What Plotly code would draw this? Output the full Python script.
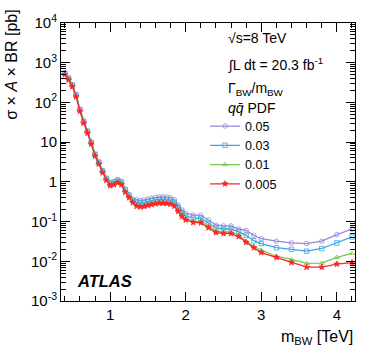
import plotly.graph_objects as go

# resonance mass points [TeV]
mass = [0.40, 0.45, 0.50, 0.55, 0.60, 0.65, 0.70, 0.75, 0.80, 0.85,
        0.90, 0.95, 1.00, 1.05, 1.10, 1.15, 1.20, 1.25, 1.30, 1.35,
        1.40, 1.45, 1.50, 1.55, 1.60, 1.65, 1.70, 1.75, 1.80, 1.85,
        1.90, 1.95, 2.00,
        2.1, 2.2, 2.3, 2.4, 2.5, 2.6, 2.7, 2.8, 2.9, 3.0,
        3.2, 3.4, 3.6, 3.8, 4.0, 4.2]

# sigma x A x BR [pb] for each width/mass ratio
w005 = [560, 415, 280, 157, 67, 34, 19, 10.1, 5.0, 3.15,
        1.9, 1.23, 0.96, 1.02, 1.14, 1.02, 0.66, 0.48, 0.36, 0.355,
        0.34, 0.35, 0.37, 0.39, 0.405, 0.42, 0.42, 0.413, 0.40, 0.355,
        0.26, 0.196, 0.16,
        0.147, 0.144, 0.109, 0.082, 0.078, 0.078, 0.065, 0.06, 0.045, 0.037,
        0.032, 0.029, 0.028, 0.032, 0.047, 0.065]
w003 = [550, 405, 275, 154, 66, 33, 18.7, 9.9, 4.95, 3.1,
        1.87, 1.21, 0.92, 0.98, 1.09, 0.98, 0.63, 0.46, 0.345, 0.306,
        0.294, 0.30, 0.32, 0.34, 0.35, 0.36, 0.36, 0.356, 0.344, 0.306,
        0.225, 0.17, 0.138,
        0.124, 0.121, 0.091, 0.069, 0.065, 0.065, 0.055, 0.045, 0.033, 0.028,
        0.022, 0.020, 0.018, 0.021, 0.029, 0.041]
w001 = [525, 390, 262, 147, 63, 31.5, 17.8, 9.5, 4.7, 2.95,
        1.78, 1.16, 0.84, 0.91, 1.02, 0.91, 0.59, 0.43, 0.32, 0.262,
        0.252, 0.257, 0.273, 0.289, 0.30, 0.31, 0.31, 0.305, 0.294, 0.262,
        0.193, 0.145, 0.118,
        0.104, 0.102, 0.077, 0.058, 0.055, 0.055, 0.046, 0.032, 0.024, 0.019,
        0.0134, 0.0112, 0.0089, 0.009, 0.0126, 0.0158]
w0005 = [500, 370, 250, 140, 60, 30, 17, 9, 4.5, 2.8,
         1.7, 1.1, 0.8, 0.85, 0.95, 0.85, 0.55, 0.4, 0.3, 0.245,
         0.235, 0.24, 0.255, 0.27, 0.28, 0.29, 0.29, 0.285, 0.275, 0.245,
         0.18, 0.135, 0.11,
         0.095, 0.093, 0.07, 0.053, 0.05, 0.05, 0.042, 0.03, 0.022, 0.0166,
         0.0126, 0.0093, 0.0071, 0.0071, 0.0085, 0.0093]

names = ["0.05", "0.03", "0.01", "0.005"]
colors = ["#9b86d9", "#3aa6de", "#7cc64f", "#f8262a"]
symbols = ["circle-open", "square-open", "triangle-up-open", "star"]
series = [w005, w003, w001, w0005]

ytick_vals = [1e-3, 1e-2, 1e-1, 1, 10, 1e2, 1e3, 1e4]
ytick_text = ["10<sup>-3</sup>", "10<sup>-2</sup>", "10<sup>-1</sup>", "1", "10",
              "10<sup>2</sup>", "10<sup>3</sup>", "10<sup>4</sup>"]

FONT = "Liberation Sans, Arial, Helvetica, sans-serif"

fig = go.Figure()
for nm, col, sym, ys in zip(names, colors, symbols, series):
    fig.add_trace(go.Scatter(
        x=mass, y=ys, name=nm, mode="lines+markers",
        line=dict(color=col, width=1.3),
        marker=dict(symbol=sym, size=4.5, color=col, line=dict(color=col, width=0.8)),
    ))

fig.update_layout(
    width=374, height=359,
    margin=dict(l=61, r=19, t=18, b=58),
    paper_bgcolor="white", plot_bgcolor="white",
    font=dict(family=FONT, size=15, color="black"),
    showlegend=True,
    legend=dict(x=0.49, y=0.682, xanchor="left", yanchor="top",
                bgcolor="rgba(0,0,0,0)", font=dict(size=12.5),
                itemwidth=30, tracegroupgap=0),
    xaxis=dict(range=[0.35, 4.24], tickvals=[1, 2, 3, 4],
               ticks="inside", ticklen=9, tickwidth=1, tickcolor="black",
               showline=True, linecolor="black", linewidth=1, mirror="allticks",
               showgrid=False, zeroline=False,
               minor=dict(dtick=0.2, tick0=0, ticks="inside", ticklen=5,
                          tickcolor="black", showgrid=False)),
    yaxis=dict(type="log", range=[-3, 4], tickmode="array",
               tickvals=ytick_vals, ticktext=ytick_text,
               ticks="inside", ticklen=9, tickwidth=1, tickcolor="black",
               showline=True, linecolor="black", linewidth=1, mirror="allticks",
               showgrid=False, zeroline=False,
               minor=dict(dtick="D1", ticks="inside", ticklen=5,
                          tickcolor="black", showgrid=False)),
)

info = ["√s=8 TeV", "∫L dt = 20.3 fb<sup>-1</sup>",
        "Γ<sub>BW</sub>/m<sub>BW</sub>", "<i>qq̄</i> PDF"]
info_y = [33, 60, 85, 105]
for txt, py_ in zip(info, info_y):
    fig.add_annotation(text=txt, xref="paper", yref="paper",
                       x=(226 - 61) / 294, y=1 - (py_ - 18) / 283,
                       xanchor="left", yanchor="middle", showarrow=False,
                       font=dict(size=14))

fig.add_annotation(text="<b><i>ATLAS</i></b>", xref="paper", yref="paper",
                   x=(75 - 61) / 294, y=1 - (281 - 18) / 283,
                   xanchor="left", yanchor="middle", showarrow=False,
                   font=dict(size=16.5))
fig.add_annotation(text="σ × <i>A</i> × BR [pb]", xref="paper", yref="paper",
                   x=-(61 - 12) / 294, y=1.055, textangle=-90,
                   xanchor="center", yanchor="top", showarrow=False,
                   font=dict(size=16))
fig.add_annotation(text="m<sub>BW</sub> [TeV]", xref="paper", yref="paper",
                   x=1, y=-(338 - 301) / 283, xanchor="right", yanchor="middle",
                   showarrow=False, font=dict(size=16))

# page has a default 8px body margin; drop it so the figure sits at 0,0
fig.write_html("out.html", config={"displayModeBar": False},
               post_script="document.body.style.margin='0';")
